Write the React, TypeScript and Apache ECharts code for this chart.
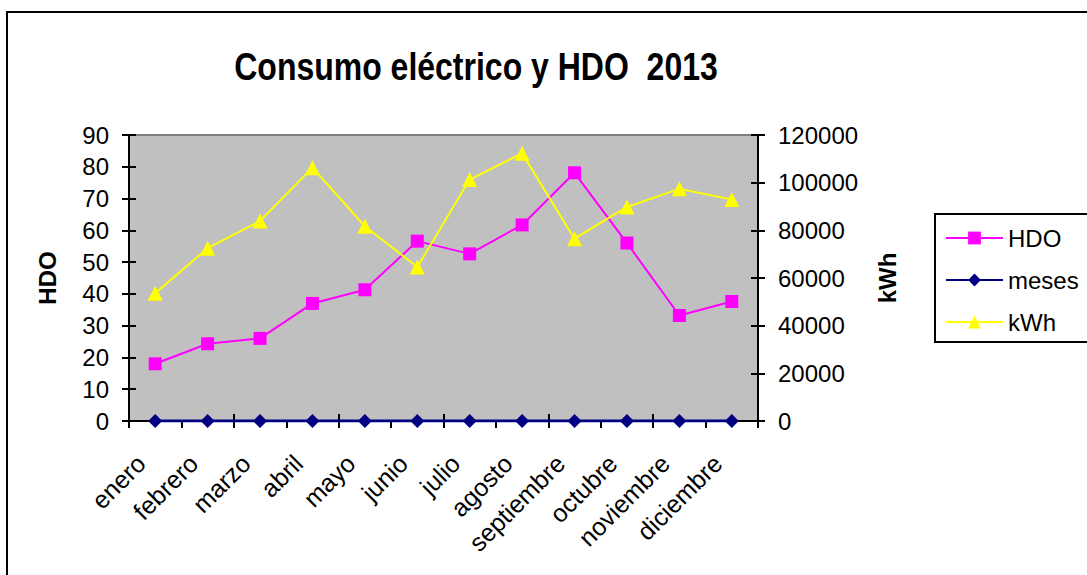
import React, { useEffect, useRef } from "react";
import * as echarts from "echarts";

const months = [
  "enero", "febrero", "marzo", "abril", "mayo", "junio",
  "julio", "agosto", "septiembre", "octubre", "noviembre", "diciembre",
];
const hdoValues = [18, 24.3, 26, 37, 41.3, 56.6, 52.6, 61.7, 78.1, 56, 33.2, 37.6];
const mesesValues = [1, 2, 3, 4, 5, 6, 7, 8, 9, 10, 11, 12];
const kwhValues = [53600, 72500, 83900, 106300, 81700, 64600, 101300, 112300, 76500, 89800, 97400, 92900];

const hdoAxis = { min: 0, max: 90, interval: 10 };
const kwhAxis = { min: 0, max: 120000, interval: 20000 };

const titleText = "Consumo eléctrico y HDO  2013";
const FONT = '"Liberation Sans", Arial, Helvetica, sans-serif';

export default function App() {
  const ref = useRef<HTMLDivElement>(null);

  useEffect(() => {
    if (!ref.current) return;
    const chart = echarts.init(ref.current, undefined, { renderer: "svg" });

    const gridRect = { left: 129, right: 329, top: 135, bottom: 154 };
    const tickStyle = { color: "#000", width: 2 };

    const option: any = {
      animation: false,
      backgroundColor: "#ffffff",
      textStyle: { fontFamily: FONT },
      graphic: [
        {
          type: "rect",
          shape: { x: 7, y: 12, width: 1200, height: 700 },
          style: { fill: "none", stroke: "#000", lineWidth: 2 },
          silent: true,
        },
        {
          type: "text",
          x: 476,
          y: 66,
          scaleY: 1.2,
          style: {
            text: titleText,
            font: `bold 32px ${FONT}`,
            textAlign: "center",
            textVerticalAlign: "middle",
            fill: "#000",
          },
        },
      ],
      grid: [
        {
          ...gridRect,
          show: true,
          backgroundColor: "#C0C0C0",
          borderColor: "#808080",
          borderWidth: 2,
        },
        { ...gridRect, show: false },
      ],
      legend: {
        orient: "vertical",
        left: 935,
        top: 214,
        itemWidth: 57,
        itemHeight: 16,
        itemGap: 18,
        padding: [12, 40, 8, 10],
        borderColor: "#000",
        borderWidth: 2,
        backgroundColor: "#fff",
        data: ["HDO", "meses", "kWh"],
        textStyle: { fontSize: 24, color: "#000", fontFamily: FONT },
      },
      xAxis: [
        {
          type: "category",
          gridIndex: 0,
          data: months,
          boundaryGap: true,
          axisLine: { show: true, lineStyle: { color: "#000", width: 2 } },
          axisTick: { show: true, length: 7, lineStyle: tickStyle },
          axisLabel: {
            interval: 0,
            rotate: 45,
            margin: 24,
            padding: [0, 20, 0, 0],
            fontSize: 25,
            color: "#000",
            fontFamily: FONT,
          },
          splitLine: { show: false },
        },
        {
          type: "category",
          gridIndex: 1,
          data: months,
          boundaryGap: true,
          axisLine: { show: false },
          axisTick: { show: true, inside: true, length: 7, lineStyle: tickStyle },
          axisLabel: { show: false },
          splitLine: { show: false },
        },
      ],
      yAxis: [
        {
          type: "value",
          gridIndex: 0,
          position: "left",
          ...hdoAxis,
          name: "HDO",
          nameLocation: "middle",
          nameGap: 70,
          nameRotate: 90,
          nameTextStyle: { fontSize: 24, fontWeight: "bold", color: "#000", fontFamily: FONT },
          axisLine: { show: true, lineStyle: { color: "#000", width: 2 } },
          axisTick: { show: true, length: 7, lineStyle: tickStyle },
          axisLabel: { fontSize: 24, margin: 20, color: "#000", fontFamily: FONT },
          splitLine: { show: false },
        },
        {
          type: "value",
          gridIndex: 0,
          position: "right",
          ...kwhAxis,
          name: "kWh",
          nameLocation: "middle",
          nameGap: 117,
          nameRotate: 90,
          nameTextStyle: { fontSize: 24, fontWeight: "bold", color: "#000", fontFamily: FONT },
          axisLine: { show: true, lineStyle: { color: "#000", width: 2 } },
          axisTick: { show: true, length: 7, lineStyle: tickStyle },
          axisLabel: {
            fontSize: 24,
            margin: 20,
            color: "#000",
            fontFamily: FONT,
            formatter: (v: number) => String(v),
          },
          splitLine: { show: false },
        },
        {
          type: "value",
          gridIndex: 1,
          position: "left",
          ...hdoAxis,
          axisLine: { show: false },
          axisTick: { show: true, inside: true, length: 7, lineStyle: tickStyle },
          axisLabel: { show: false },
          splitLine: { show: false },
        },
        {
          type: "value",
          gridIndex: 1,
          position: "right",
          ...kwhAxis,
          axisLine: { show: false },
          axisTick: { show: true, inside: true, length: 7, lineStyle: tickStyle },
          axisLabel: { show: false },
          splitLine: { show: false },
        },
      ],
      series: [
        {
          name: "HDO",
          type: "line",
          xAxisIndex: 0,
          yAxisIndex: 0,
          data: hdoValues,
          symbol: "rect",
          symbolSize: 13,
          itemStyle: { color: "#FF00FF" },
          lineStyle: { color: "#FF00FF", width: 2 },
          z: 3,
        },
        {
          name: "meses",
          type: "line",
          xAxisIndex: 0,
          yAxisIndex: 1,
          data: mesesValues,
          symbol: "diamond",
          symbolSize: 14,
          itemStyle: { color: "#000080" },
          lineStyle: { color: "#000080", width: 3 },
          z: 4,
        },
        {
          name: "kWh",
          type: "line",
          xAxisIndex: 0,
          yAxisIndex: 1,
          data: kwhValues,
          symbol: "triangle",
          symbolSize: 15,
          itemStyle: { color: "#FFFF00" },
          lineStyle: { color: "#FFFF00", width: 2 },
          z: 3,
        },
      ],
    };

    chart.setOption(option);
    return () => chart.dispose();
  }, []);

  return (
    <div
      ref={ref}
      style={{ position: "fixed", left: 0, top: 0, width: 1087, height: 575, background: "#fff" }}
    />
  );
}
